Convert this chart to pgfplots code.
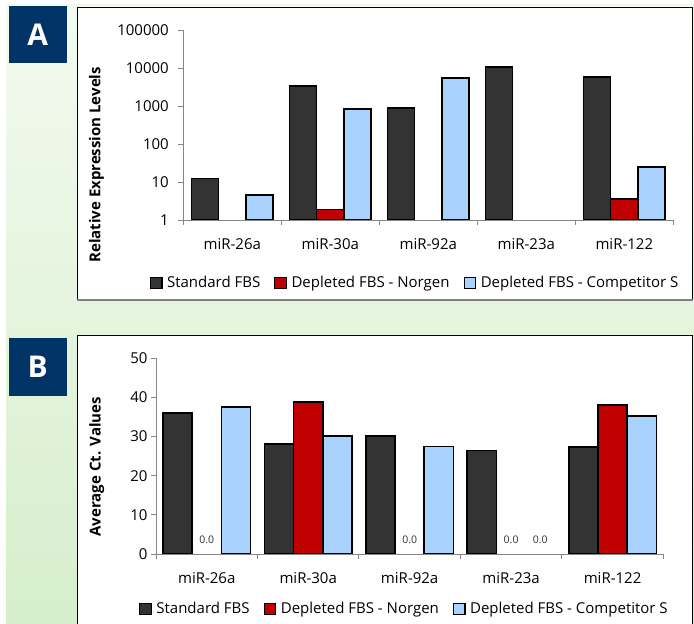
\documentclass[border=0pt]{standalone}
\usepackage{pgfplots}
\pgfplotsset{compat=1.18}
\usepackage{fontspec}
\setmainfont{Open Sans}

\definecolor{navy}{HTML}{003366}
\definecolor{stdfbs}{HTML}{333333}
\definecolor{norgen}{HTML}{C00000}
\definecolor{compS}{HTML}{A9D2FF}
\definecolor{bgtop}{HTML}{F3FAF0}
\definecolor{bgbot}{HTML}{D6EECB}
\definecolor{axgray}{HTML}{868686}

\newcommand{\chartfont}{\fontsize{15bp}{18bp}\selectfont}

\pgfplotsset{
  mirpanel/.style={
    scale only axis, anchor=south west,
    xmin=-0.5, xmax=4.5,
    axis x line*=bottom, axis y line*=left,
    axis line style={axgray, line width=0.9bp},
    every tick/.style={axgray, line width=0.9bp},
    tick align=outside, major tick length=5bp,
    xtick={-0.5,0.5,1.5,2.5,3.5,4.5},
    xticklabels={,,,,,},
    extra x ticks={0,1,2,3,4},
    extra x tick labels={miR-26a,miR-30a,miR-92a,miR-23a,miR-122},
    extra x tick style={major tick length=0pt,
      xticklabel style={anchor=base, yshift=-30bp}},
    tick label style={font=\chartfont},
    /pgf/number format/assume math mode=true,
    ylabel style={font=\bfseries\fontsize{15bp}{17bp}\selectfont, anchor=center},
    legend columns=3,
    legend style={draw=none, fill=none, font=\chartfont, anchor=west,
      nodes={inner xsep=0pt},
      /tikz/every odd column/.append style={column sep=4.5bp},
      /tikz/every even column/.append style={column sep=14bp}},
    legend image code/.code={\draw[#1, line width=1.1bp] (0bp,-5.8bp) rectangle (11.6bp,5.8bp);},
  },
  barbase/.style={ybar, draw=black, line width=1.6bp, bar width=#1},
  stdbar/.style={barbase=#1, fill=stdfbs, bar shift=-#1},
  norbar/.style={barbase=#1, fill=norgen, bar shift=0},
  cmpbar/.style={barbase=#1, fill=compS, bar shift=#1},
}

\begin{document}
\begin{tikzpicture}[x=1bp, y=1bp]
\useasboundingbox (0,0) rectangle (694,624);
% page background
\fill[white] (0,0) rectangle (694,624);
\shade[top color=bgtop, bottom color=bgbot] (6,0) rectangle (694,619);

% panel frames
\draw[fill=white, draw=black, line width=0.8bp] (77.3,324) rectangle (692.7,616.7);
\draw[gray, line width=1.5bp] (77.3,324) -- (692.7,324);
\draw[fill=white, draw=black, line width=0.8bp] (77.3,-5) rectangle (692.7,289);

% panel letters
\fill[navy] (9,560.7) rectangle (66.7,618.3);
\node[white, font=\bfseries\fontsize{30bp}{30bp}\selectfont] at (37.8,589.5) {A};
\fill[navy] (9,228) rectangle (66.7,286.3);
\node[white, font=\bfseries\fontsize{30bp}{30bp}\selectfont] at (37.8,257.1) {B};

% ---------- A: relative expression (log scale) ----------
\begin{axis}[mirpanel,
  at={(183.3bp,404bp)}, width=490bp, height=190bp,
  ymode=log, log origin=infty, ymin=1, ymax=100000,
  ytick={1,10,100,1000,10000,100000},
  yticklabels={1,10,100,1000,10000,100000},
  yminorticks=false,
  yticklabel style={xshift=-6bp},
  ylabel={Relative Expression Levels},
  ylabel style={at={(axis description cs:-0.177,0.29)}},
  legend style={at={(axis description cs:-0.0747,-0.3316)}},
]
\addplot[stdbar=0.278] coordinates {(0,12.5) (1,3400) (2,870) (3,10800) (4,5700)};
\addplot[norbar=0.278] coordinates {(1,1.9) (4,3.6)};
\addplot[cmpbar=0.278] coordinates {(0,4.5) (1,820) (2,5400) (4,25)};
\legend{Standard FBS, Depleted FBS - Norgen, Depleted FBS - Competitor S}
\end{axis}

% ---------- B: average Ct values ----------
\begin{axis}[mirpanel,
  at={(156bp,70bp)}, width=507.3bp, height=195.7bp,
  ymin=0, ymax=50, ytick={0,10,...,50},
  ylabel={Average Ct. Values},
  ylabel style={at={(axis description cs:-0.117,0.446)}},
  legend style={at={(axis description cs:-0.0394,-0.2811)}},
]
\addplot[stdbar=0.288] coordinates {(0,36.1) (1,28.1) (2,30.1) (3,26.4) (4,27.4)};
\addplot[norbar=0.288] coordinates {(1,38.8) (4,38.0)};
\addplot[cmpbar=0.288] coordinates {(0,37.6) (1,30.1) (2,27.5) (4,35.2)};
\legend{Standard FBS, Depleted FBS - Norgen, Depleted FBS - Competitor S}
% zero-valued entries (Norgen at 0, 2, 3; Competitor S at 3) carry only their value label
\addplot[forget plot, only marks, mark=none,
  nodes near coords, point meta=explicit symbolic,
  nodes near coords style={font=\fontsize{10.5bp}{12bp}\selectfont, text=black!80, anchor=base, yshift=10bp}]
  coordinates {(0,0)[0.0] (2,0)[0.0] (3,0)[0.0] (3.288,0)[0.0]};
\end{axis}
\end{tikzpicture}
\end{document}
